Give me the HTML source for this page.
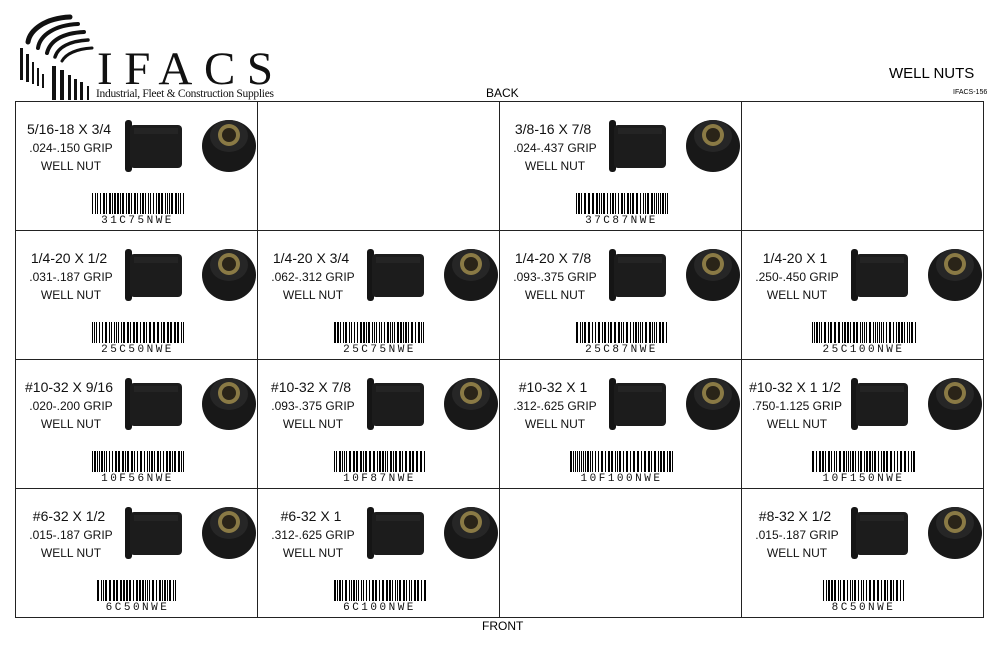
<!DOCTYPE html>
<html><head><meta charset="utf-8"><style>
body{margin:0;width:1000px;height:647px;background:#fff;position:relative;overflow:hidden;font-family:"Liberation Sans",sans-serif}
.a{position:absolute}
.cell{position:absolute;border:1px solid #222;box-sizing:border-box;width:243px;height:130px}
.t{position:absolute;left:0;width:110px;text-align:center;color:#111;white-space:nowrap}
.code{position:absolute;font-family:"Liberation Mono",monospace;font-size:11px;letter-spacing:2.5px;text-align:center;left:0;width:243px;top:113px;color:#111}
</style></head><body>
<svg class="a" style="left:0;top:0" width="300" height="105">
<g fill="none" stroke="#111" stroke-linecap="round">
<path d="M70,17 C45,18 30,30 28,42" stroke-width="5"/>
<path d="M78,24 C55,25 40,35 38,48" stroke-width="4"/>
<path d="M84,32 C62,33 50,41 47,53" stroke-width="4"/>
<path d="M88,40 C70,41 58,47 55,57" stroke-width="3.5"/>
<path d="M92,48 C76,49 66,54 62,61" stroke-width="3"/>
</g>
<g fill="#111">
<rect x="20" y="48" width="3" height="32"/><rect x="26" y="54" width="3" height="28"/><rect x="32" y="62" width="2" height="22"/><rect x="37" y="68" width="2" height="18"/><rect x="42" y="74" width="2" height="14"/>
<rect x="52" y="66" width="4" height="34"/><rect x="60" y="70" width="4" height="30"/><rect x="68" y="75" width="3" height="25"/><rect x="74" y="79" width="3" height="21"/><rect x="80" y="82" width="3" height="18"/><rect x="87" y="86" width="2" height="14"/>
</g>
<text x="97" y="84" font-family="Liberation Serif,serif" font-size="47" fill="#111" textLength="176">IFACS</text>
<text x="96" y="97" font-family="Liberation Serif,serif" font-size="11.5" fill="#111" textLength="178">Industrial, Fleet &amp; Construction Supplies</text>
</svg>
<div class="a" style="left:889px;top:65px;font-size:15px">WELL NUTS</div>
<div class="a" style="left:953px;top:89px;font-size:7px">IFACS-156</div>
<div class="a" style="left:486px;top:86px;font-size:12px">BACK</div>
<div class="a" style="left:482px;top:619px;font-size:12px">FRONT</div>
<div id="g"></div>
<script>
var d=[
["5/16-18 X 3/4",".024-.150 GRIP","31C75NWE"],null,["3/8-16 X 7/8",".024-.437 GRIP","37C87NWE"],null,
["1/4-20 X 1/2",".031-.187 GRIP","25C50NWE"],["1/4-20 X 3/4",".062-.312 GRIP","25C75NWE"],["1/4-20 X 7/8",".093-.375 GRIP","25C87NWE"],["1/4-20 X 1",".250-.450 GRIP","25C100NWE"],
["#10-32 X 9/16",".020-.200 GRIP","10F56NWE"],["#10-32 X 7/8",".093-.375 GRIP","10F87NWE"],["#10-32 X 1",".312-.625 GRIP","10F100NWE"],["#10-32 X 1 1/2",".750-1.125 GRIP","10F150NWE"],
["#6-32 X 1/2",".015-.187 GRIP","6C50NWE"],["#6-32 X 1",".312-.625 GRIP","6C100NWE"],null,["#8-32 X 1/2",".015-.187 GRIP","8C50NWE"]];
var xs=[15,257,499,741],ys=[101,230,359,488],h="",seed=7;
function r(){seed=(seed*9301+49297)%233280;return seed/233280;}
for(var i=0;i<16;i++){var x=xs[i%4],y=ys[Math.floor(i/4)];h+='<div class="cell" style="left:'+x+'px;top:'+y+'px">';var c=d[i];
if(c){h+='<div class="t" style="top:19px;left:-2px;font-size:14px">'+c[0]+'</div><div class="t" style="top:39px;font-size:12px">'+c[1]+'</div><div class="t" style="top:57px;font-size:12px">WELL NUT</div>';
h+='<svg class="a" style="left:105px;top:14px" width="135" height="62"><rect x="4" y="4" width="7" height="52" rx="3" fill="#151515"/><rect x="9" y="9" width="52" height="43" rx="4" fill="#1c1c1c"/><rect x="13" y="12" width="44" height="6" fill="#2a2a2a" opacity=".6"/>';
h+='<ellipse cx="108" cy="30" rx="27" ry="26" fill="#181818"/><ellipse cx="108" cy="20" rx="19" ry="16" fill="#262626"/><circle cx="108" cy="19" r="11" fill="#8a7a45"/><circle cx="108" cy="19" r="7" fill="#2a2418"/></svg>';
var w=Math.round(c[2].length*11.5),bx=(243-w)/2,b='';var p=0;while(p<w){var bw=r()<0.5?1:2;b+='<rect x="'+p+'" y="0" width="'+bw+'" height="21" fill="#000"/>';p+=bw+(r()<0.5?1:2);}
h+='<svg class="a" style="left:'+bx+'px;top:91px" width="'+w+'" height="21">'+b+'</svg><div class="code">'+c[2]+'</div>';}
h+='</div>';}
document.getElementById('g').innerHTML=h;
</script>
</body></html>
